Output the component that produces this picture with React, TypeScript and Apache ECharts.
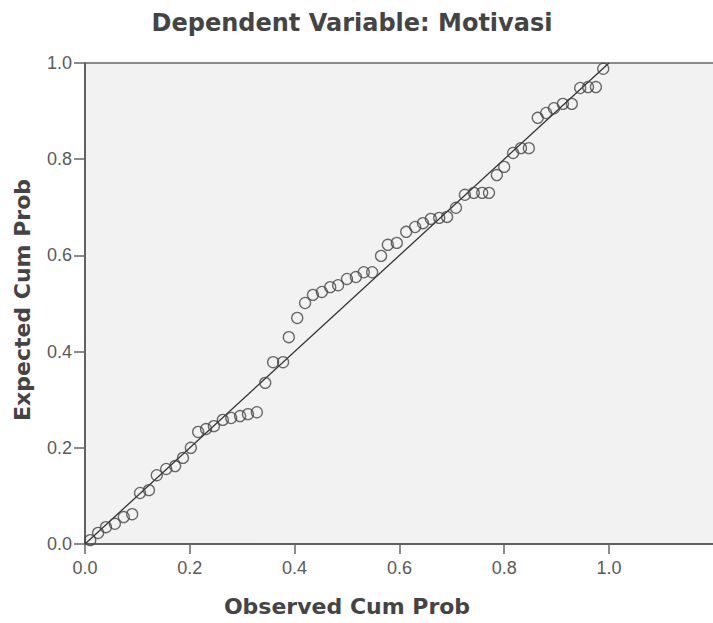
import React, { useEffect, useRef } from "react";
import * as echarts from "echarts";

const observed: number[] = [
  0.010, 0.025, 0.040, 0.057, 0.074, 0.090, 0.105, 0.122, 0.137, 0.155,
  0.172, 0.187, 0.202, 0.216, 0.231, 0.246, 0.263, 0.279, 0.296, 0.311,
  0.328, 0.344, 0.359, 0.378, 0.389, 0.405, 0.420, 0.435, 0.452, 0.468,
  0.483, 0.500, 0.517, 0.532, 0.548, 0.565, 0.578, 0.595, 0.613, 0.630,
  0.645, 0.660, 0.676, 0.691, 0.708, 0.725, 0.742, 0.758, 0.771, 0.786,
  0.800, 0.817, 0.832, 0.847, 0.864, 0.880, 0.895, 0.912, 0.929, 0.945,
  0.960, 0.975, 0.989,
];

const expected: number[] = [
  0.008, 0.023, 0.035, 0.042, 0.056, 0.062, 0.106, 0.112, 0.143, 0.156,
  0.162, 0.179, 0.200, 0.233, 0.239, 0.245, 0.258, 0.262, 0.266, 0.270,
  0.274, 0.335, 0.378, 0.378, 0.430, 0.470, 0.501, 0.518, 0.524, 0.534,
  0.538, 0.551, 0.555, 0.565, 0.565, 0.599, 0.622, 0.626, 0.649, 0.659,
  0.667, 0.676, 0.678, 0.680, 0.699, 0.726, 0.730, 0.730, 0.730, 0.767,
  0.784, 0.813, 0.823, 0.823, 0.886, 0.896, 0.906, 0.915, 0.915, 0.948,
  0.950, 0.950, 0.988,
];

const referenceLine: number[][] = [
  [0, 0],
  [1, 1],
];

const xTicks: number[] = [0, 0.2, 0.4, 0.6, 0.8, 1.0];
const yTicks: number[] = [0, 0.2, 0.4, 0.6, 0.8, 1.0];

const titleText = "Dependent Variable: Motivasi";
const xName = "Observed Cum Prob";
const yName = "Expected Cum Prob";

export default function App() {
  const ref = useRef<HTMLDivElement>(null);

  useEffect(() => {
    if (!ref.current) return;
    const chart = echarts.init(ref.current, null, { renderer: "svg" });
    const font = "Liberation Sans, Arial, sans-serif";
    const wide = "DejaVu Sans, Verdana, sans-serif";
    const gridLeft = 85;
    const gridWidth = 640;
    const unitPx = 524;
    chart.setOption({
      animation: false,
      backgroundColor: "#ffffff",
      grid: {
        left: gridLeft,
        top: 63,
        width: gridWidth,
        height: 481,
        outerBoundsMode: "none",
        containLabel: false,
        show: true,
        backgroundColor: "#f2f2f2",
        borderColor: "#666666",
        borderWidth: 1.5,
      },
      xAxis: {
        type: "value",
        min: 0,
        max: gridWidth / unitPx,
        splitLine: { show: false },
        axisLine: { show: true, lineStyle: { color: "#555555", width: 1.5 } },
        axisTick: {
          show: true,
          length: 10,
          customValues: xTicks,
          lineStyle: { color: "#666666", width: 1.5 },
        },
        axisLabel: {
          margin: 15,
          customValues: xTicks,
          fontFamily: font,
          fontSize: 18,
          color: "#5a5a5a",
          formatter: (v: number) => v.toFixed(1),
        },
      },
      yAxis: {
        type: "value",
        min: 0,
        max: 1,
        interval: 0.2,
        splitLine: { show: false },
        axisLine: { show: true, lineStyle: { color: "#555555", width: 1.5 } },
        axisTick: {
          show: true,
          length: 11,
          customValues: yTicks,
          lineStyle: { color: "#666666", width: 1.5 },
        },
        axisLabel: {
          margin: 13,
          customValues: yTicks,
          fontFamily: font,
          fontSize: 18,
          color: "#5a5a5a",
          formatter: (v: number) => v.toFixed(1),
        },
      },
      graphic: [
        {
          type: "text",
          x: 352,
          y: 23,
          style: {
            text: titleText,
            fontFamily: wide,
            fontSize: 24,
            fontWeight: "bold",
            fill: "#444444",
            align: "center",
            verticalAlign: "middle",
          },
        },
        {
          type: "text",
          x: 347,
          y: 606,
          style: {
            text: xName,
            fontFamily: wide,
            fontSize: 22,
            fontWeight: "bold",
            fill: "#444444",
            align: "center",
            verticalAlign: "middle",
          },
        },
        {
          type: "text",
          x: 22,
          y: 300,
          rotation: Math.PI / 2,
          style: {
            text: yName,
            fontFamily: wide,
            fontSize: 22,
            fontWeight: "bold",
            fill: "#444444",
            align: "center",
            verticalAlign: "middle",
          },
        },
      ],
      series: [
        {
          type: "line",
          data: referenceLine,
          symbol: "none",
          lineStyle: { color: "#333333", width: 1.3 },
          silent: true,
          z: 2,
        },
        {
          type: "scatter",
          data: observed.map((x, i) => [x, expected[i]]),
          symbol: "circle",
          symbolSize: 11,
          itemStyle: {
            color: "rgba(0,0,0,0)",
            borderColor: "#444444",
            borderWidth: 1.3,
          },
          z: 3,
        },
      ],
    });
    return () => chart.dispose();
  }, []);

  return (
    <div
      ref={ref}
      style={{ position: "fixed", left: 0, top: 0, width: 713, height: 623 }}
    />
  );
}
